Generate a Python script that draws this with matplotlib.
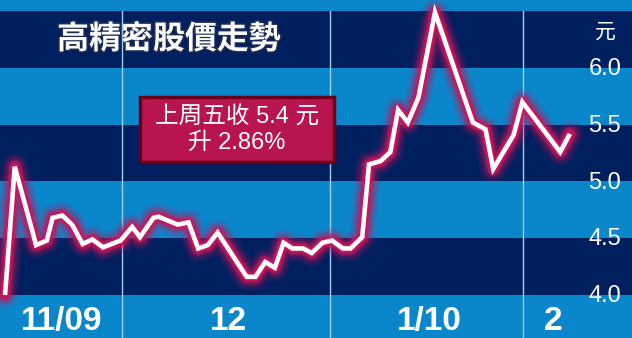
import matplotlib
matplotlib.use("Agg")
import matplotlib.pyplot as plt
from matplotlib.patches import Rectangle
import matplotlib.patheffects as pe

# ---- data (x in trading-day index, y in HK$) ----
days = [0.0, 1.0, 3.2, 4.3, 4.9, 5.9, 6.9, 8.0, 9.0, 10.1, 11.9, 13.1, 13.9, 15.3,
        15.8, 17.8, 18.9, 19.9, 20.9, 21.9, 24.9, 25.8, 26.8, 27.8, 28.7, 29.6,
        30.7, 31.6, 32.7, 33.7, 34.8, 35.6, 36.8, 37.5, 38.7, 39.7, 40.5, 41.5,
        42.6, 44.3, 48.2, 49.5, 50.3, 52.4, 53.3, 57.2, 58.2]
prices = [4.00, 5.13, 4.44, 4.48, 4.68, 4.70, 4.62, 4.45, 4.49, 4.42, 4.48, 4.60,
          4.51, 4.68, 4.69, 4.62, 4.64, 4.41, 4.44, 4.55, 4.16, 4.16, 4.29, 4.24,
          4.46, 4.41, 4.41, 4.37, 4.46, 4.48, 4.41, 4.41, 4.51, 5.15, 5.18, 5.26,
          5.63, 5.52, 5.74, 6.49, 5.52, 5.46, 5.11, 5.41, 5.70, 5.26, 5.42]
month_starts = [12.0, 33.5, 53.4]
month_labels = ["11/09", "12", "1/10", "2"]
month_label_pos = [5.8, 23.0, 43.7, 56.5]
y_ticks = [4.0, 4.5, 5.0, 5.5, 6.0]
y_tick_labels = ["4.0", "4.5", "5.0", "5.5", "6.0"]
band_edges = [3.5, 4.0, 4.5, 5.0, 5.5, 6.0, 6.5, 7.0]
title = "高精密股價走勢"
note_lines = "上周五收 5.4 元\n升 2.86%"
unit = "元"

NAVY = "#001f5f"
BLUE = "#0a86cb"
GLOW = "#c8155a"

fig = plt.figure(figsize=(6.32, 3.38), dpi=100)
ax = fig.add_axes([0, 0, 1, 1])
ax.set_xlim(-0.52, 64.6)
ax.set_ylim(3.621, 6.599)
ax.axis("off")

for i in range(len(band_edges) - 1):
    col = BLUE if i % 2 == 0 else NAVY
    ax.axhspan(band_edges[i], band_edges[i + 1], color=col, zorder=0, lw=0)

for m in month_starts:
    ax.plot([m, m], [3.5, 6.5], color="#9fd0f2", lw=1.0, zorder=3)

# glow
for lw, a in [(20, 0.08), (17, 0.12), (14, 0.18), (11, 0.3), (8.5, 0.55), (6, 0.9)]:
    ax.plot(days, prices, color=GLOW, lw=lw, alpha=a, solid_joinstyle="round",
            solid_capstyle="round", zorder=4)
ax.plot(days, prices, color="white", lw=3.3, solid_joinstyle="miter",
        solid_capstyle="butt", zorder=5)

# right axis labels
for v, t in zip(y_ticks, y_tick_labels):
    ax.text(61.8, v - 0.01, t, color="white", fontsize=17, family="Liberation Sans",
            ha="center", va="center", zorder=6)
ax.text(61.85, 6.32, unit, color="white", fontsize=15, family="Noto Sans CJK TC",
        ha="center", va="center", zorder=6)

# month labels
for p, t in zip(month_label_pos, month_labels):
    ax.text(p, 3.77, t, color="white", fontsize=24, fontweight="bold",
            family=["Liberation Sans Narrow", "Liberation Sans"], ha="center",
            va="center", zorder=6)

# title
ax.text(16.9, 6.25, title, color="white", fontsize=23, fontweight=900,
        family="Noto Sans CJK TC", ha="center", va="center", zorder=2,
        path_effects=[pe.withStroke(linewidth=2.5, foreground="#1a2a55")])

# annotation box
bx0, bx1 = (140 - 5) / 9.7, (334 - 5) / 9.7
by0, by1 = 4.0 + (295 - 162) / 113.5, 4.0 + (295 - 97) / 113.5
ax.add_patch(Rectangle((bx0, by0), bx1 - bx0, by1 - by0, facecolor="#b81450",
                       edgecolor="#6a0018", lw=2.5, zorder=6))
ax.text((bx0 + bx1) / 2, (by0 + by1) / 2 - 0.01, note_lines, color="white", fontsize=17,
        family=["Liberation Sans", "Noto Sans CJK TC"], ha="center", va="center",
        linespacing=1.2, zorder=7)

fig.savefig("out.png", dpi=100)
